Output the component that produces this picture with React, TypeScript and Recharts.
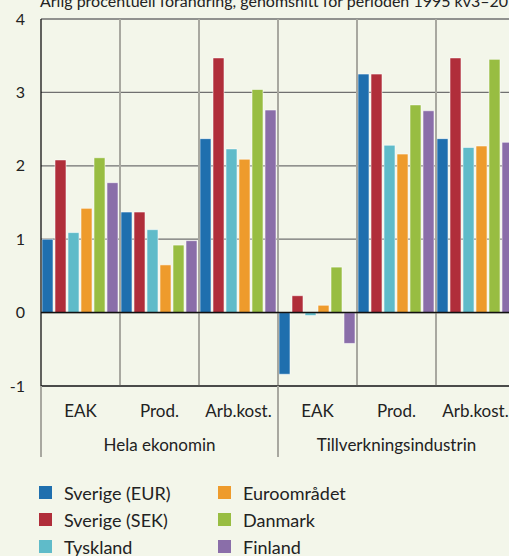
import { BarChart, Bar, XAxis, YAxis, CartesianGrid, ReferenceLine } from 'recharts';

const categoryKeys = ['h-eak', 'h-prod', 'h-arb', 't-eak', 't-prod', 't-arb'];
const categoryLabels = ['EAK', 'Prod.', 'Arb.kost.', 'EAK', 'Prod.', 'Arb.kost.'];
const groupLabels = ['Hela ekonomin', 'Tillverkningsindustrin'];
const yTicks = [-1, 0, 1, 2, 3, 4];

const sverigeEur = [1.0, 1.37, 2.37, -0.84, 3.25, 2.37];
const sverigeSek = [2.08, 1.37, 3.47, 0.23, 3.25, 3.47];
const tyskland = [1.09, 1.13, 2.23, -0.04, 2.28, 2.25];
const euroomradet = [1.42, 0.65, 2.09, 0.1, 2.16, 2.27];
const danmark = [2.11, 0.92, 3.04, 0.62, 2.83, 3.45];
const finland = [1.77, 0.98, 2.76, -0.42, 2.75, 2.32];

const title = 'Årlig procentuell förändring, genomsnitt för perioden 1995 kv3–2013 kv4';

const series = [
  { key: 'sverigeEur', name: 'Sverige (EUR)', color: '#1f6fae', values: sverigeEur },
  { key: 'sverigeSek', name: 'Sverige (SEK)', color: '#b02e3a', values: sverigeSek },
  { key: 'tyskland', name: 'Tyskland', color: '#5fbbc9', values: tyskland },
  { key: 'euroomradet', name: 'Euroområdet', color: '#ee9b2c', values: euroomradet },
  { key: 'danmark', name: 'Danmark', color: '#98bd42', values: danmark },
  { key: 'finland', name: 'Finland', color: '#8a6ea9', values: finland },
];

const data = categoryKeys.map((key, i) => {
  const row: Record<string, string | number> = { key };
  series.forEach((s) => {
    row[s.key] = s.values[i];
  });
  return row;
});

const FONT = 'Lato, "Open Sans", sans-serif';
const CHART_W = 520;
const Y_W = 41;
const RIGHT = 5;
const BAND = (CHART_W - Y_W - RIGHT) / categoryKeys.length;
const AXIS1_H = 35;
const AXIS2_H = 36;

const CatTick = ({ x, y, payload }: any) => {
  const i = categoryKeys.indexOf(payload.value);
  return (
    <text x={x} y={y + 31} textAnchor="middle" fill="#222" fontSize={17} fontFamily={FONT}>
      {categoryLabels[i]}
    </text>
  );
};

const GroupTick = ({ x, y, payload }: any) => {
  const i = categoryKeys.indexOf(payload.value);
  return (
    <g>
      {i % 3 === 0 && (
        <line x1={x - BAND / 2} x2={x - BAND / 2} y1={y - AXIS1_H} y2={y + AXIS2_H} stroke="#a8a8a0" strokeWidth={2} />
      )}
      {i % 3 === 1 && (
        <text x={x} y={y + 30} textAnchor="middle" fill="#222" fontSize={17} fontFamily={FONT}>
          {groupLabels[Math.floor(i / 3)]}
        </text>
      )}
    </g>
  );
};

const App = () => {
  return (
    <div
      style={{
        position: 'absolute',
        left: 0,
        top: 0,
        width: 509,
        height: 556,
        overflow: 'hidden',
        background: '#f3f6ea',
        fontFamily: FONT,
      }}
    >
      <div
        style={{
          position: 'absolute',
          left: 40,
          top: -9,
          fontSize: 16,
          lineHeight: '20px',
          color: '#222',
          whiteSpace: 'nowrap',
        }}
      >
        {title}
      </div>
      <BarChart
        width={CHART_W}
        height={457}
        data={data}
        margin={{ top: 19, right: RIGHT, left: 0, bottom: 0 }}
        barCategoryGap={1}
        barGap={2}
      >
        <CartesianGrid vertical={false} stroke="#707070" strokeWidth={1.3} />
        {['h-prod', 'h-arb', 't-eak', 't-prod', 't-arb'].map((k) => (
          <ReferenceLine key={k} x={k} position="start" stroke="#a8a8a0" strokeWidth={2} />
        ))}
        <XAxis
          dataKey="key"
          height={AXIS1_H}
          tick={<CatTick />}
          tickLine={false}
          tickSize={0}
          tickMargin={0}
          axisLine={{ stroke: '#333', strokeWidth: 1.3 }}
          interval={0}
        />
        <XAxis
          dataKey="key"
          xAxisId="grp"
          height={AXIS2_H}
          tick={<GroupTick />}
          tickLine={false}
          tickSize={0}
          tickMargin={0}
          axisLine={false}
          interval={0}
        />
        <YAxis
          domain={[-1, 4]}
          ticks={yTicks}
          width={Y_W}
          tickLine={false}
          tickSize={0}
          tickMargin={16}
          axisLine={{ stroke: '#111', strokeWidth: 1.3 }}
          tick={{ fill: '#222', fontSize: 16, fontFamily: FONT }}
        />
        {series.map((s) => (
          <Bar
            key={s.key}
            dataKey={s.key}
            name={s.name}
            fill={s.color}
            stroke="rgba(255,255,255,0.55)"
            strokeWidth={1}
            isAnimationActive={false}
          />
        ))}
        <ReferenceLine y={0} stroke="#111" strokeWidth={1.5} />
      </BarChart>
      <div
        style={{
          position: 'absolute',
          left: 39,
          top: 479,
          display: 'grid',
          gridTemplateColumns: '179px 200px',
          gridAutoFlow: 'column',
          gridTemplateRows: 'repeat(3, 27px)',
          fontSize: 18,
          color: '#222',
        }}
      >
        {series.map((s) => (
          <div key={s.key} style={{ display: 'flex', alignItems: 'center', height: 27 }}>
            <span style={{ width: 13, height: 13, background: s.color, marginRight: 12, display: 'inline-block', flexShrink: 0 }} />
            <span>{s.name}</span>
          </div>
        ))}
      </div>
    </div>
  );
};

export default App;
